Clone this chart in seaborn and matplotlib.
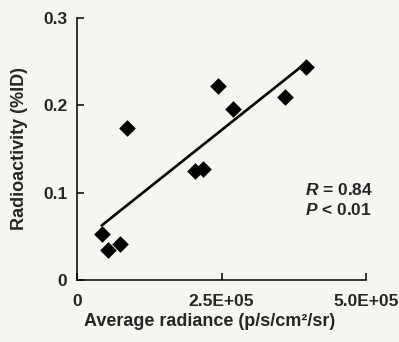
import matplotlib
matplotlib.use("Agg")
import matplotlib.pyplot as plt
import seaborn as sns
import numpy as np
import pandas as pd

# Data
radiance = [42700, 54200, 74400, 86000, 204200, 217400, 243400, 269300, 359900, 396200]
radioactivity = [0.0525, 0.034, 0.041, 0.174, 0.125, 0.127, 0.222, 0.196, 0.210, 0.244]
x_ticks = [0, 250000, 500000]
x_tick_labels = ["0", "2.5E+05", "5.0E+05"]
y_ticks = [0, 0.1, 0.2, 0.3]
y_tick_labels = ["0", "0.1", "0.2", "0.3"]
stats_lines = ["$R$ = 0.84", "$P$ < 0.01"]

df = pd.DataFrame({"radiance": radiance, "radioactivity": radioactivity})

sns.set_style("ticks")
plt.rcParams["font.family"] = ["Liberation Sans", "DejaVu Sans"]
plt.rcParams["font.weight"] = "bold"
plt.rcParams["mathtext.fontset"] = "custom"
plt.rcParams["mathtext.it"] = "Liberation Sans:italic:bold"
plt.rcParams["mathtext.rm"] = "Liberation Sans:bold"
plt.rcParams["xtick.direction"] = "in"
plt.rcParams["ytick.direction"] = "in"

bg = "#f6f5f1"
fig = plt.figure(figsize=(3.99, 3.42), dpi=100, facecolor=bg)
ax = fig.add_axes([77 / 399, 1 - 280 / 342, 289 / 399, 262 / 342])
ax.set_facecolor(bg)

sns.regplot(data=df, x="radiance", y="radioactivity", ax=ax, ci=None, truncate=True,
            marker="D", color="black",
            scatter_kws={"s": 72, "linewidths": 0, "alpha": 1, "zorder": 3},
            line_kws={"linewidth": 1.9, "color": "black"})

ax.set_xlim(0, 500000)
ax.set_ylim(0, 0.3)
ax.set_xticks(x_ticks)
ax.set_xticklabels(x_tick_labels, fontsize=12.5, fontweight="bold")
ax.set_yticks(y_ticks)
ax.set_yticklabels(y_tick_labels, fontsize=12.5, fontweight="bold")
ax.tick_params(direction="in", length=5, width=1.1, color="black")
ax.tick_params(axis="x", pad=10)
ax.tick_params(axis="y", pad=7)
for s in ["top", "right"]:
    ax.spines[s].set_visible(False)
for s in ["left", "bottom"]:
    ax.spines[s].set_linewidth(1.1)
    ax.spines[s].set_color("black")

ax.set_xlabel("Average radiance (p/s/cm²/sr)", fontsize=13, fontweight="bold")
ax.set_ylabel("Radioactivity (%ID)", fontsize=13, fontweight="bold")
ax.xaxis.set_label_coords((210 - 77) / 289, (280 - 313) / 262)
ax.xaxis.label.set_va("top")
ax.yaxis.set_label_coords((28 - 77) / 289, 0.5)

for i, t in enumerate(stats_lines):
    ax.text((305 - 77) / 289, (280 - 195 - 20 * i) / 262, t, transform=ax.transAxes,
            fontsize=12.5, fontweight="bold", ha="left", va="baseline")

fig.savefig("out.png", dpi=100, facecolor=bg)
